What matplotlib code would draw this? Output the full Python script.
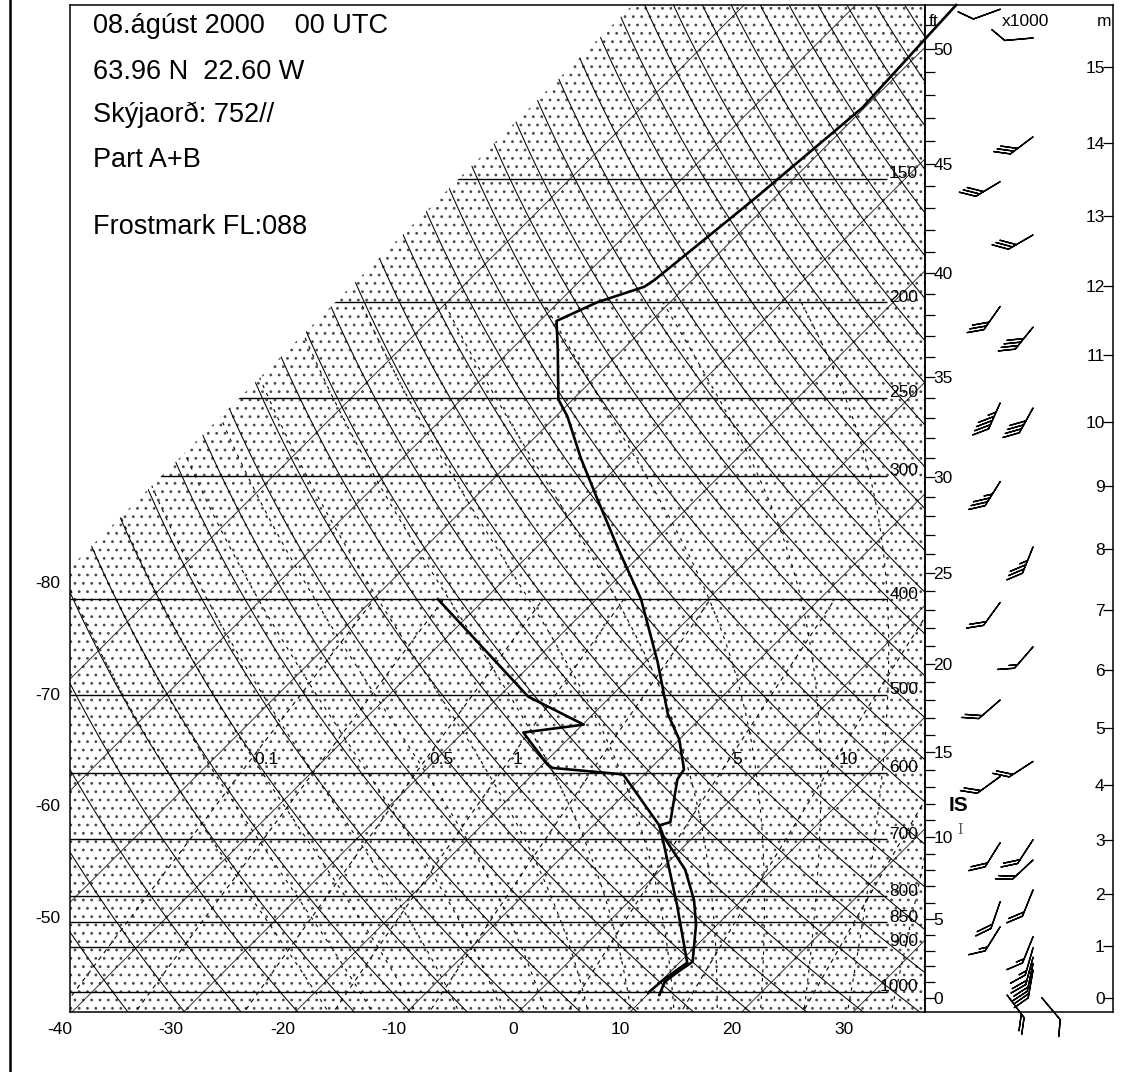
import numpy as np
import matplotlib.pyplot as plt
from matplotlib.lines import Line2D
from matplotlib.patches import Polygon
from matplotlib.collections import LineCollection
from matplotlib.ticker import FixedLocator, NullFormatter
import matplotlib.transforms as mtransforms

plt.rcParams['font.family'] = ['Liberation Sans', 'DejaVu Sans']
plt.rcParams['hatch.linewidth'] = 0.8

W, H = 1140, 1072

# ---------------- sounding 08.08.2000 00 UTC ----------------
temp_p = [1007, 977, 954, 932, 855, 807, 783, 752, 696, 678, 673, 609, 595, 555,
          523, 463, 400, 356, 316, 288, 261, 251, 223, 209, 200, 193, 190, 182,
          157, 127, 100]
temp_t = [11.1, 10.4, 10.7, 11.1, 8.1, 5.7, 4.2, 2.2, -2.7, -4.1, -3.4, -6.6,
          -6.9, -10.0, -13.3, -18.9, -26.0, -32.5, -39.0, -44.0, -49.0, -51.3,
          -55.9, -58.5, -56.5, -53.7, -53.4, -53.0, -51.7, -50.2, -51.0]

dew_p = [1002, 972, 934, 816, 701, 678, 602, 593, 588, 546, 536, 502, 400]
dew_t = [9.9, 10.1, 10.7, 4.6, -2.5, -4.1, -11.9, -18.8, -19.6, -24.6, -19.9,
         -27.4, -44.2]

# wind: pressure, column (0 left / 1 right), direction (deg), speed (kt)
wind_p = [101, 108, 136, 151, 171, 202, 212, 253, 256, 304, 354, 403, 447, 506,
          584, 605, 701, 706, 735, 788, 810, 859, 879, 902, 922, 936, 950]
wind_col = [0, 1, 1, 0, 1, 0, 1, 0, 1, 0, 1, 0, 1, 0,
            1, 0, 1, 0, 1, 1, 0, 0, 1, 1, 1, 1, 1]
wind_dir = [250, 265, 233, 239, 240, 215, 219, 204, 209, 212, 202, 216, 221, 229,
            237, 234, 213, 212, 227, 202, 199, 212, 202, 196, 195, 192, 190]
wind_spd = [10, 10, 30, 30, 30, 30, 40, 45, 40, 35, 35, 20, 15, 20,
            20, 20, 20, 20, 20, 20, 20, 15, 15, 15, 20, 20, 20]
sfc_p = [1007, 1014]
sfc_dir = [143, 140]
sfc_spd = [20, 10]

isobars = [1000, 900, 850, 800, 700, 600, 500, 400, 300, 250, 200, 150]
temp_labels_bottom = [-40, -30, -20, -10, 0, 10, 20, 30]
temp_labels_left = [-80, -70, -60, -50]
mix_lines = [0.1, 0.2, 0.5, 1, 2, 5, 10, 20]
mix_labels = [0.1, 0.5, 1, 5, 10]
ft_major = list(range(0, 51, 5))
m_major = list(range(0, 16))

# ---------------- diagram geometry ----------------
P_BOT, P_TOP = 1048.0, 100.0
XL, XR = -40.18, 36.43
K = 38.4          # skew (45 deg)
BOUND_T = -80     # isotherm limiting the chart area


def skew(t, p):
    return np.asarray(t) + K * np.log(P_BOT / np.asarray(p))


def isa_p(z):
    return 1013.25 * (1 - 2.25577e-5 * np.asarray(z, dtype=float)) ** 5.25588


def es(tc):
    return 6.112 * np.exp(17.67 * tc / (tc + 243.5))


def td_from_w(w, p):
    e = w * p / (622.0 + w)
    a = np.log(e / 6.112)
    return 243.5 * a / (17.67 - a)


def moist(tw, p_arr):
    Rd, cp, Lv, eps = 287.04, 1005.7, 2.501e6, 0.622

    def f(p, T):
        e = es(T - 273.15)
        rs = eps * e / (p - e)
        return (Rd * T + Lv * rs) / (p * (cp + Lv ** 2 * rs * eps / (Rd * T ** 2)))

    out = []
    for p_end in p_arr:
        T, p = tw + 273.15, 1000.0
        n = 60
        h = (p_end - 1000.0) / n
        for _ in range(n):
            k1 = f(p, T)
            k2 = f(p + h / 2, T + h / 2 * k1)
            k3 = f(p + h / 2, T + h / 2 * k2)
            k4 = f(p + h, T + h * k3)
            T += h / 6 * (k1 + 2 * k2 + 2 * k3 + k4)
            p += h
        out.append(T - 273.15)
    return np.array(out)


fig = plt.figure(figsize=(W / 100, H / 100), dpi=100)
ax = fig.add_axes([70 / W, (H - 1012) / H, (925 - 70) / W, (1012 - 5) / H])
ax.set_yscale('log')
ax.set_ylim(P_BOT, P_TOP)
ax.set_xlim(XL, XR)
ax.set_xticks([])
ax.set_yticks([])
ax.yaxis.set_minor_locator(FixedLocator([]))
for s in ax.spines.values():
    s.set_linewidth(1.1)

# stippled area
p_edge = P_BOT / np.exp((XL - BOUND_T) / K)
x_top = skew(BOUND_T, P_TOP)
area = Polygon([(XL, P_BOT), (XL, p_edge), (x_top, P_TOP), (XR, P_TOP), (XR, P_BOT)],
               closed=True, facecolor='white', edgecolor='#4a4a4a', hatch='..',
               linewidth=0, zorder=0)
ax.add_patch(area)

pp = np.geomspace(1060, 95, 160)

# isotherms
segs = []
for t in range(-70, 50, 10):
    segs.append(np.column_stack([skew([t, t], [1060, 95]), [1060, 95]]))
lc = LineCollection(segs, colors='#222222', linewidths=0.65, zorder=1)
ax.add_collection(lc)
lc.set_clip_path(area)

# dry adiabats
segs = []
for th in range(200, 500, 5):
    t = th * (pp / 1000.0) ** 0.2857 - 273.15
    segs.append(np.column_stack([skew(t, pp), pp]))
lc = LineCollection(segs, colors='black', linewidths=0.75, zorder=1)
ax.add_collection(lc)
lc.set_clip_path(area)

# moist adiabats
pm = np.geomspace(1060, 200, 60)
segs = []
for tw in range(-20, 40, 4):
    segs.append(np.column_stack([skew(moist(tw, pm), pm), pm]))
lc = LineCollection(segs, colors='black', linewidths=0.8, linestyles=(0, (3, 5)), zorder=1)
ax.add_collection(lc)
lc.set_clip_path(area)

# mixing ratio lines
pw = np.geomspace(1060, 400, 40)
segs = []
for w in mix_lines:
    segs.append(np.column_stack([skew(td_from_w(w, pw), pw), pw]))
lc = LineCollection(segs, colors='black', linewidths=0.8, linestyles=(0, (4, 4)), zorder=1)
ax.add_collection(lc)
lc.set_clip_path(area)

for w in mix_labels:
    lbl = ('%g' % w)
    tr = mtransforms.offset_copy(ax.transData, fig=fig, x=3, y=0, units='dots')
    ax.text(skew(td_from_w(w, 581.0), 581.0), 581.0, lbl, transform=tr,
            ha='left', va='center', fontsize=12.5, zorder=3)

# isobars
x_end = -40 + (887 - 72) / 11.16
segs = [np.array([[XL, p], [x_end, p]]) for p in isobars]
lc = LineCollection(segs, colors='black', linewidths=1.0, zorder=2)
ax.add_collection(lc)
lc.set_clip_path(area)
tr = mtransforms.offset_copy(ax.transData, fig=fig, x=0, y=5, units='dots')
x_lab = -40 + (918 - 72) / 11.16
for p in isobars:
    ax.text(x_lab, p, str(p), transform=tr, ha='right', va='center', fontsize=12.5, zorder=3)

# temperature labels
trb = mtransforms.blended_transform_factory(ax.transData, ax.transAxes)
for t in temp_labels_bottom:
    ax.text(t, -0.017, str(t), transform=trb, ha='right', va='center', fontsize=12.5, clip_on=False)
ln_tot = np.log(P_BOT / P_TOP)
for t in temp_labels_left:
    frac = (XL - t) / K / ln_tot
    ax.text(-0.0117, frac - 16 / 1007, str(t), transform=ax.transAxes,
            ha='right', va='center', fontsize=12.5, clip_on=False)

# sounding
ax.plot(skew(temp_t, temp_p), temp_p, color='black', lw=1.9, zorder=6, clip_on=False)
ax.plot(skew(dew_t, dew_p), dew_p, color='black', lw=1.9, zorder=6)

# header text
lines = ['08.ágúst 2000    00 UTC', '63.96 N  22.60 W', 'Skýjaorð: 752//', 'Part A+B', 'Frostmark FL:088']
ys = [26, 72, 115, 160, 227]
for s, y in zip(lines, ys):
    fig.text(93 / W, 1 - y / H, s, ha='left', va='center', fontsize=19.5)

# ---------------- wind / height panel ----------------
axw = fig.add_axes([925 / W, (H - 1012) / H, (1113 - 925) / W, (1012 - 5) / H])
axw.set_facecolor('none')
axw.set_yscale('log')
axw.set_ylim(P_BOT, P_TOP)
axw.set_xlim(0, 1)
axw.set_xticks([])
for s in axw.spines.values():
    s.set_linewidth(1.1)
ft_p = isa_p(np.array(ft_major) * 304.8)
axw.yaxis.set_major_locator(FixedLocator(ft_p))
axw.yaxis.set_minor_locator(FixedLocator(isa_p(np.arange(0, 53) * 304.8)))
axw.yaxis.set_minor_formatter(NullFormatter())
axw.set_yticklabels([str(v) for v in ft_major])
axw.tick_params(axis='y', which='both', direction='in', length=7, width=0.9,
                left=True, right=False, pad=-6, labelsize=12.5)
for lab in axw.get_yticklabels():
    lab.set_ha('left')

axm = axw.twinx()
axm.set_facecolor('none')
axm.set_yscale('log')
axm.set_ylim(P_BOT, P_TOP)
axm.yaxis.set_major_locator(FixedLocator(isa_p(np.array(m_major) * 1000.0)))
axm.yaxis.set_minor_locator(FixedLocator([]))
axm.set_yticklabels([str(v) for v in m_major])
axm.tick_params(axis='y', which='both', direction='in', length=7, width=0.9, pad=-6, labelsize=12.5)
for lab in axm.get_yticklabels():
    lab.set_ha('right')
for s in axm.spines.values():
    s.set_visible(False)

col_x = [0.40, 0.575]
wx = [col_x[c] for c in wind_col]
d = np.radians(wind_dir)
u = -np.array(wind_spd) * np.sin(d)
v = -np.array(wind_spd) * np.cos(d)
bsz = dict(spacing=0.16, height=0.42, width=0.84)
axw.barbs(wx, wind_p, u, v, length=6.4, sizes=bsz, linewidth=1.0, color='black', zorder=5)
d = np.radians(sfc_dir)
axw.barbs([0.436, 0.622], sfc_p, -np.array(sfc_spd) * np.sin(d), -np.array(sfc_spd) * np.cos(d),
          length=6.4, sizes=bsz, linewidth=1.0, color='black', clip_on=False, zorder=5)

axw.text(0.176, 647.5, 'IS', ha='center', va='center', fontsize=15, fontweight='bold')
axw.text(0.185, 686, 'I', ha='center', va='center', fontsize=10, color='#555555', family='DejaVu Serif')

fig.text(929 / W, 1 - 22 / H, 'ft', ha='left', va='center', fontsize=12.5)
fig.text(1025 / W, 1 - 22 / H, 'x1000', ha='center', va='center', fontsize=12.5)
fig.text(1104 / W, 1 - 22 / H, 'm', ha='center', va='center', fontsize=12.5)

# page border
fig.add_artist(Line2D([10 / W, 10 / W], [0, 1], color='black', lw=1.8))

fig.savefig('out.png', dpi=100)
